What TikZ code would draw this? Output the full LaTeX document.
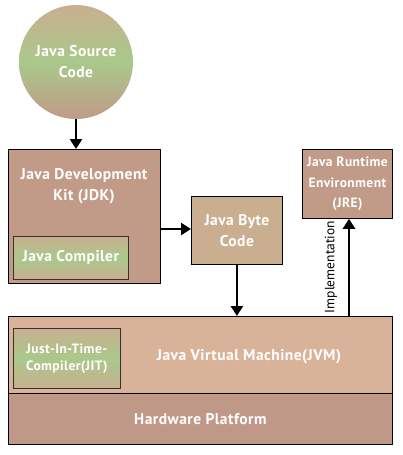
\documentclass[tikz,border=0pt]{standalone}
\usepackage{fontspec}
\setmainfont[LetterSpace=3,BoldFont={PT Sans Bold}]{PT Sans}
\newfontfamily\implfont{PT Sans}
\usetikzlibrary{arrows.meta}
\definecolor{tanc}{HTML}{C9AF8F}
\definecolor{greenc}{HTML}{A9C98B}
\definecolor{rosec}{HTML}{C19A88}
\definecolor{jvmc}{HTML}{D8B399}
\definecolor{hwc}{HTML}{C09888}
\pgfdeclareverticalshading{srcshade}{100bp}{color(0bp)=(rosec); color(25bp)=(rosec); color(50bp)=(greenc); color(75bp)=(tanc); color(100bp)=(tanc)}
\tikzset{
  big/.style={font=\bfseries\fontsize{15.5}{21}\selectfont},
  box/.style={draw=black, line width=0.8pt, inner sep=0pt, big, text=white, align=center},
  gbox/.style={draw=black!80, line width=0.6pt, top color=tanc, bottom color=tanc, middle color=greenc, inner sep=0pt, text=white, align=center},
  arr/.style={-{Triangle[length=10pt,width=12pt]}, line width=2.6pt},
}
\begin{document}
\begin{tikzpicture}[x=1pt,y=-1pt]
\useasboundingbox (0,0) rectangle (402,455);
% source circle
\node[circle, minimum size=114pt, inner sep=0pt, shading=srcshade, text=white, align=center, big] (src) at (76,62) {Java Source\\Code};
% JDK
\node[box, fill=rosec, minimum width=152pt, minimum height=134pt, anchor=north west] (jdk) at (8,149) {};
\node[text=white, align=center, big] (jdkt) at (84,186) {Java Development\\Kit (JDK)};
\node[gbox, minimum width=115pt, minimum height=43pt, anchor=north west, font=\bfseries\fontsize{15.5}{20}\selectfont] (comp) at (13,236) {Java Compiler};
% Byte code
\node[box, fill=tanc, minimum width=91pt, minimum height=68pt, anchor=north west] (byte) at (191,196) {Java Byte\\Code};
% JRE
\node[box, fill=rosec, minimum width=90pt, minimum height=69pt, anchor=north west, font=\bfseries\fontsize{13.5}{20.5}\selectfont] (jre) at (302,149) {Java Runtime\\Environment\\(JRE)};
% JVM
\node[box, fill=jvmc, minimum width=384pt, minimum height=77pt, anchor=north west] (jvm) at (8,316) {};
\node[text=white, big] (jvmt) at (249,357) {Java Virtual Machine(JVM)};
\node[gbox, minimum width=107pt, minimum height=60pt, anchor=north west, font=\bfseries\fontsize{13.5}{17}\selectfont] (jit) at (13,328) {Just-In-Time-\\Compiler(JIT)};
% Hardware
\node[box, fill=hwc, minimum width=384pt, minimum height=51pt, anchor=north west] (hw) at (8,393) {Hardware Platform};
% arrows
\draw[arr] (src.south) -- (jdk.north -| src.south);
\coordinate (a1) at (160,229);
\draw[arr] (a1) -- (a1 -| byte.west);
\draw[arr] (byte.south) -- (byte.south |- jvm.north);
\coordinate (imp) at (349,316);
\draw[arr] (imp) -- (imp |- jre.south);
\node[rotate=90, font=\implfont\fontsize{13.5}{14}\selectfont, text=black] (impl) at (331,267) {Implementation};
\end{tikzpicture}
\end{document}
